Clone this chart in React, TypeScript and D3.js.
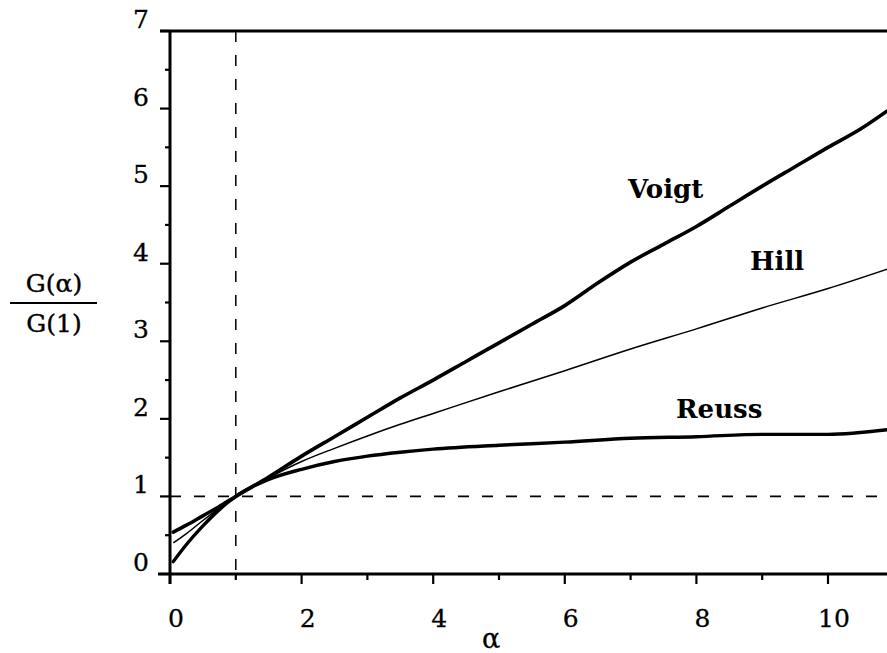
import React from "react";
import * as d3 from "d3";

const voigt: [number, number][] = [
  [0.05, 0.54], [0.25, 0.63], [0.5, 0.75], [0.75, 0.87], [1, 1.0], [1.5, 1.25],
  [2, 1.52], [2.5, 1.77], [3, 2.02], [3.5, 2.27], [4, 2.5], [4.5, 2.74], [5, 2.98],
  [5.5, 3.22], [6, 3.46], [6.5, 3.75], [7, 4.02], [7.5, 4.25], [8, 4.48], [8.5, 4.74],
  [9, 5.0], [9.5, 5.25], [10, 5.5], [10.5, 5.74], [10.9, 5.97],
];
const hill: [number, number][] = [
  [0.05, 0.4], [0.25, 0.52], [0.5, 0.69], [0.75, 0.85], [1, 1.0], [1.5, 1.24],
  [2, 1.45], [2.5, 1.62], [3, 1.78], [3.5, 1.93], [4, 2.07], [5, 2.35], [6, 2.62],
  [7, 2.9], [8, 3.16], [9, 3.43], [10, 3.68], [10.9, 3.93],
];
const reuss: [number, number][] = [
  [0.05, 0.16], [0.25, 0.38], [0.5, 0.62], [0.75, 0.83], [1, 1.0], [1.5, 1.22],
  [2, 1.35], [2.5, 1.45], [3, 1.52], [3.5, 1.57], [4, 1.61], [5, 1.66], [6, 1.7],
  [7, 1.75], [8, 1.77], [9, 1.8], [10, 1.8], [10.9, 1.86],
];
const xTickLabels = [0, 2, 4, 6, 8, 10];
const xTicks = [0, 1, 2, 3, 4, 5, 6, 7, 8, 9, 10];
const yTickLabels = [0, 1, 2, 3, 4, 5, 6, 7];
const yMinorTicks = [0.5, 1.5, 2.5, 3.5, 4.5, 5.5, 6.5];
const refX = 1;
const refY = 1;

const W = 887;
const H = 653;
const SERIF = "'DejaVu Serif', serif";

export default function App() {
  const x = d3.scaleLinear().domain([0, 10]).range([170, 828]);
  const y = d3.scaleLinear().domain([0, 7]).range([574, 31]);
  const line = d3
    .line<[number, number]>()
    .x((d) => x(d[0]))
    .y((d) => y(d[1]))
    .curve(d3.curveMonotoneX);

  return (
    <svg
      width={W}
      height={H}
      style={{ position: "absolute", left: 0, top: 0, background: "#fff" }}
    >
      <rect x={0} y={0} width={W} height={H} fill="#fff" />
      {/* dashed reference lines */}
      <line x1={x(refX)} x2={x(refX)} y1={y(7)} y2={y(0)} stroke="#000" strokeWidth={1.5} strokeDasharray="11 13" />
      <line x1={x(0)} x2={W} y1={y(refY)} y2={y(refY)} stroke="#000" strokeWidth={1.8} strokeDasharray="11 13" />

      {/* axes */}
      <line x1={160} x2={W} y1={y(7)} y2={y(7)} stroke="#000" strokeWidth={3} />
      <line x1={x(0)} x2={x(0)} y1={y(7)} y2={584} stroke="#000" strokeWidth={3} />
      <line x1={158} x2={W} y1={y(0)} y2={y(0)} stroke="#000" strokeWidth={3} />

      {/* x ticks */}
      {xTicks.map((t) => (
        <line key={"xt" + t} x1={x(t)} x2={x(t)} y1={y(0)} y2={y(0) + (t % 2 === 0 ? 10 : 6)} stroke="#000" strokeWidth={2.2} />
      ))}
      {xTickLabels.map((t) => (
        <text key={"xl" + t} x={x(t) + 6} y={627} textAnchor="middle" fontFamily={SERIF} fontSize={25} fill="#000" stroke="#000" strokeWidth={0.3}>
          {t}
        </text>
      ))}

      {/* y ticks */}
      {yTickLabels.map((t) => (
        <line key={"yt" + t} x1={160} x2={x(0)} y1={y(t)} y2={y(t)} stroke="#000" strokeWidth={2.2} />
      ))}
      {yMinorTicks.map((t) => (
        <line key={"ym" + t} x1={165} x2={x(0)} y1={y(t)} y2={y(t)} stroke="#000" strokeWidth={2.2} />
      ))}
      {yTickLabels.map((t) => (
        <text key={"yl" + t} x={149} y={y(t) - 3} textAnchor="end" fontFamily={SERIF} fontSize={25} fill="#000" stroke="#000" strokeWidth={0.3}>
          {t}
        </text>
      ))}

      {/* curves */}
      <path d={line(voigt) || ""} fill="none" stroke="#000" strokeWidth={3.6} strokeLinejoin="round" strokeLinecap="round" />
      <path d={line(hill) || ""} fill="none" stroke="#000" strokeWidth={1.5} strokeLinejoin="round" />
      <path d={line(reuss) || ""} fill="none" stroke="#000" strokeWidth={3.4} strokeLinejoin="round" strokeLinecap="round" />

      {/* curve labels */}
      <text x={628} y={198} fontFamily={SERIF} fontWeight="bold" fontSize={26} fill="#000">Voigt</text>
      <text x={750} y={270} fontFamily={SERIF} fontWeight="bold" fontSize={26} fill="#000">Hill</text>
      <text x={676} y={418} fontFamily={SERIF} fontWeight="bold" fontSize={26} fill="#000">Reuss</text>

      {/* axis labels */}
      <text x={491} y={648} textAnchor="middle" fontFamily={SERIF} fontSize={27} fill="#000" stroke="#000" strokeWidth={0.3}>α</text>
      <text x={54} y={292} textAnchor="middle" fontFamily={SERIF} fontSize={25} fill="#000" stroke="#000" strokeWidth={0.4}>G(α)</text>
      <line x1={10} x2={97} y1={303} y2={303} stroke="#000" strokeWidth={2} />
      <text x={54} y={332} textAnchor="middle" fontFamily={SERIF} fontSize={25} fill="#000" stroke="#000" strokeWidth={0.4}>G(1)</text>
    </svg>
  );
}
